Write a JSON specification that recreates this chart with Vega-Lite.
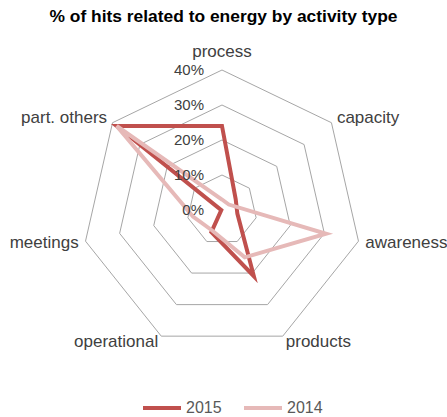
{
  "$schema": "https://vega.github.io/schema/vega-lite/v6.json",
  "width": 447,
  "height": 387,
  "autosize": {"type": "none"},
  "padding": {"left": 0, "top": 30, "right": 0, "bottom": 0},
  "title": {
    "text": "% of hits related to energy by activity type",
    "fontSize": 17.4,
    "fontWeight": "bold",
    "font": "Liberation Sans",
    "color": "#000000",
    "anchor": "middle",
    "baseline": "middle",
    "offset": 13,
    "dy": 17,
    "frame": "group"
  },
  "config": {
    "view": {"stroke": null},
    "legend": {
      "orient": "none",
      "legendX": 141,
      "legendY": 357,
      "direction": "horizontal",
      "symbolType": "stroke",
      "symbolSize": 1444,
      "symbolStrokeWidth": 4,
      "labelFontSize": 16,
      "labelFont": "Liberation Sans",
      "labelColor": "#595959",
      "labelOffset": 3,
      "columnPadding": 14,
      "title": null
    }
  },
  "datasets": {
    "hits": [
      {"year": "2015", "axis": "process", "i": 0, "value": 24},
      {"year": "2015", "axis": "capacity", "i": 1, "value": 5},
      {"year": "2015", "axis": "awareness", "i": 2, "value": 4.5},
      {"year": "2015", "axis": "products", "i": 3, "value": 21},
      {"year": "2015", "axis": "operational", "i": 4, "value": 7},
      {"year": "2015", "axis": "meetings", "i": 5, "value": 0.2},
      {"year": "2015", "axis": "part. others", "i": 6, "value": 38.5},
      {"year": "2014", "axis": "process", "i": 0, "value": 3},
      {"year": "2014", "axis": "capacity", "i": 1, "value": 2.5},
      {"year": "2014", "axis": "awareness", "i": 2, "value": 30.5},
      {"year": "2014", "axis": "products", "i": 3, "value": 15},
      {"year": "2014", "axis": "operational", "i": 4, "value": 6.5},
      {"year": "2014", "axis": "meetings", "i": 5, "value": 8.5},
      {"year": "2014", "axis": "part. others", "i": 6, "value": 38.5}
    ],
    "grid": [
      {"ring": 10, "i": 0}, {"ring": 10, "i": 1}, {"ring": 10, "i": 2}, {"ring": 10, "i": 3}, {"ring": 10, "i": 4}, {"ring": 10, "i": 5}, {"ring": 10, "i": 6},
      {"ring": 20, "i": 0}, {"ring": 20, "i": 1}, {"ring": 20, "i": 2}, {"ring": 20, "i": 3}, {"ring": 20, "i": 4}, {"ring": 20, "i": 5}, {"ring": 20, "i": 6},
      {"ring": 30, "i": 0}, {"ring": 30, "i": 1}, {"ring": 30, "i": 2}, {"ring": 30, "i": 3}, {"ring": 30, "i": 4}, {"ring": 30, "i": 5}, {"ring": 30, "i": 6},
      {"ring": 40, "i": 0}, {"ring": 40, "i": 1}, {"ring": 40, "i": 2}, {"ring": 40, "i": 3}, {"ring": 40, "i": 4}, {"ring": 40, "i": 5}, {"ring": 40, "i": 6}
    ],
    "ticks": [
      {"label": "0%", "r": 0},
      {"label": "10%", "r": 10},
      {"label": "20%", "r": 20},
      {"label": "30%", "r": 30},
      {"label": "40%", "r": 40}
    ],
    "cats": [
      {"axis": "process", "i": 0},
      {"axis": "capacity", "i": 1},
      {"axis": "awareness", "i": 2},
      {"axis": "products", "i": 3},
      {"axis": "operational", "i": 4},
      {"axis": "meetings", "i": 5},
      {"axis": "part. others", "i": 6}
    ]
  },
  "encoding": {
    "x": {"field": "x", "type": "quantitative", "scale": {"domain": [-63.43, 64.29], "nice": false, "zero": false}, "axis": null},
    "y": {"field": "y", "type": "quantitative", "scale": {"domain": [-59.14, 51.43], "nice": false, "zero": false}, "axis": null}
  },
  "layer": [
    {
      "data": {"name": "grid"},
      "transform": [
        {"calculate": "datum.ring * sin(datum.i * 2 * PI / 7)", "as": "x"},
        {"calculate": "datum.ring * cos(datum.i * 2 * PI / 7)", "as": "y"}
      ],
      "mark": {"type": "line", "interpolate": "linear-closed", "stroke": "#A6A6A6", "strokeWidth": 1},
      "encoding": {
        "detail": {"field": "ring", "type": "nominal"},
        "order": {"field": "i", "type": "quantitative"}
      }
    },
    {
      "data": {"name": "hits"},
      "transform": [
        {"filter": "datum.year == '2015'"},
        {"calculate": "datum.value * sin(datum.i * 2 * PI / 7)", "as": "x"},
        {"calculate": "datum.value * cos(datum.i * 2 * PI / 7)", "as": "y"}
      ],
      "mark": {"type": "line", "interpolate": "linear-closed", "strokeWidth": 4, "strokeJoin": "miter"},
      "encoding": {
        "color": {"field": "year", "type": "nominal", "scale": {"domain": ["2015", "2014"], "range": ["#C0504D", "#E6B9B8"]}},
        "order": {"field": "i", "type": "quantitative"}
      }
    },
    {
      "data": {"name": "hits"},
      "transform": [
        {"filter": "datum.year == '2014'"},
        {"calculate": "datum.value * sin(datum.i * 2 * PI / 7)", "as": "x"},
        {"calculate": "datum.value * cos(datum.i * 2 * PI / 7)", "as": "y"}
      ],
      "mark": {"type": "line", "interpolate": "linear-closed", "strokeWidth": 4, "strokeJoin": "miter"},
      "encoding": {
        "color": {"field": "year", "type": "nominal", "scale": {"domain": ["2015", "2014"], "range": ["#C0504D", "#E6B9B8"]}},
        "order": {"field": "i", "type": "quantitative"}
      }
    },
    {
      "data": {"name": "ticks"},
      "transform": [
        {"calculate": "0", "as": "x"},
        {"calculate": "datum.r", "as": "y"}
      ],
      "mark": {"type": "text", "align": "right", "baseline": "middle", "dx": -18, "fontSize": 15, "font": "Liberation Sans", "color": "#404040"},
      "encoding": {"text": {"field": "label"}}
    },
    {
      "data": {"name": "cats"},
      "transform": [
        {"filter": "datum.i == 0"},
        {"calculate": "42 * sin(datum.i * 2 * PI / 7)", "as": "x"},
        {"calculate": "42 * cos(datum.i * 2 * PI / 7)", "as": "y"}
      ],
      "mark": {"type": "text", "align": "center", "baseline": "middle", "dy": -11, "fontSize": 17, "font": "Liberation Sans", "color": "#404040"},
      "encoding": {"text": {"field": "axis"}}
    },
    {
      "data": {"name": "cats"},
      "transform": [
        {"filter": "datum.i >= 1 && datum.i <= 3"},
        {"calculate": "42 * sin(datum.i * 2 * PI / 7)", "as": "x"},
        {"calculate": "42 * cos(datum.i * 2 * PI / 7)", "as": "y"}
      ],
      "mark": {"type": "text", "align": "left", "baseline": "middle", "fontSize": 17, "font": "Liberation Sans", "color": "#404040"},
      "encoding": {"text": {"field": "axis"}}
    },
    {
      "data": {"name": "cats"},
      "transform": [
        {"filter": "datum.i >= 4"},
        {"calculate": "42 * sin(datum.i * 2 * PI / 7)", "as": "x"},
        {"calculate": "42 * cos(datum.i * 2 * PI / 7)", "as": "y"}
      ],
      "mark": {"type": "text", "align": "right", "baseline": "middle", "fontSize": 17, "font": "Liberation Sans", "color": "#404040"},
      "encoding": {"text": {"field": "axis"}}
    }
  ]
}
